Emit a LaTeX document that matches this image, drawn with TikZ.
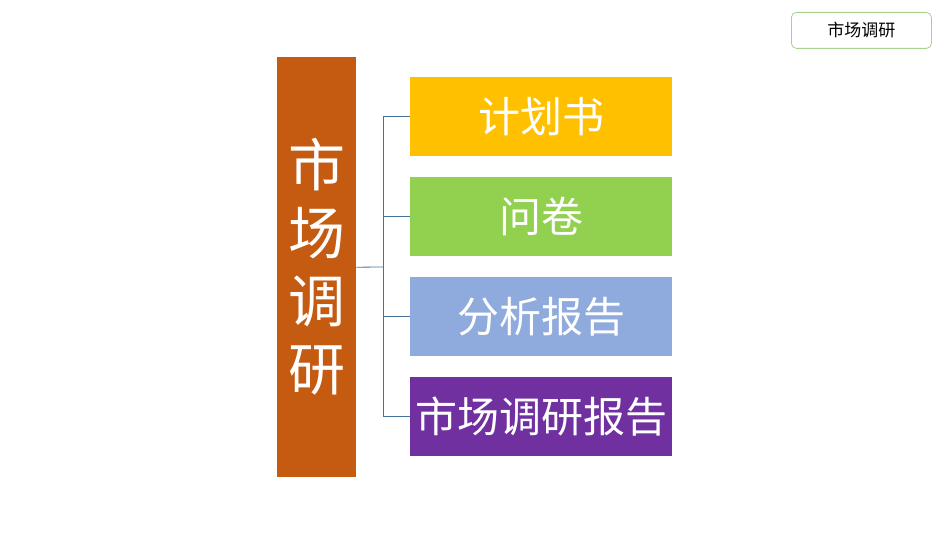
\documentclass[tikz,border=0pt]{standalone}
\usepackage{fontspec}
\setmainfont{Noto Sans CJK SC}
\usetikzlibrary{positioning}

\definecolor{rust}{HTML}{C55A11}
\definecolor{gold}{HTML}{FFC000}
\definecolor{leaf}{HTML}{92D050}
\definecolor{sky}{HTML}{8FAADC}
\definecolor{plum}{HTML}{7030A0}
\definecolor{wire}{HTML}{41719C}
\definecolor{tagline}{HTML}{A9D18E}

\begin{document}
\begin{tikzpicture}[x = 1pt, y = -1pt,
	item/.style = {minimum width = 262pt, minimum height = 79pt, inner sep = 0, text = white, font = \fontsize{42}{48}\selectfont},
	link/.style = {draw = wire, line width = 0.8pt}]
			\useasboundingbox (0,0) rectangle (950,535);
			
			\node[fill = rust, minimum width = 79pt, minimum height = 420pt, inner sep = 0, anchor = north west, text = white, align = center, font = \fontsize{57}{68}\selectfont] (main) at (277,57) {市\\场\\调\\研}; % main box
			
			\node[item, fill = gold, anchor = north west] (b1) at (410,77) {计划书};
			\node[item, fill = leaf, anchor = north west] (b2) at (410,177) {问卷};
			\node[item, fill = sky, anchor = north west] (b3) at (410,277) {分析报告};
			\node[item, fill = plum, anchor = north west] (b4) at (410,377) {市场调研报告};
			
			\coordinate (fork) at (383,267);
			\draw[link] (main.east) -- (fork);
			\foreach \i in {1,...,4}
				\draw[link] (fork) |- (b\i.west);
			
			\node[draw = tagline, line width = 0.8pt, rounded corners = 5pt, minimum width = 140pt, minimum height = 36pt, inner sep = 0, anchor = north west, font = \fontsize{17}{20}\selectfont] (tag) at (791,12) {市场调研}; % top right label
		\end{tikzpicture}
\end{document}
